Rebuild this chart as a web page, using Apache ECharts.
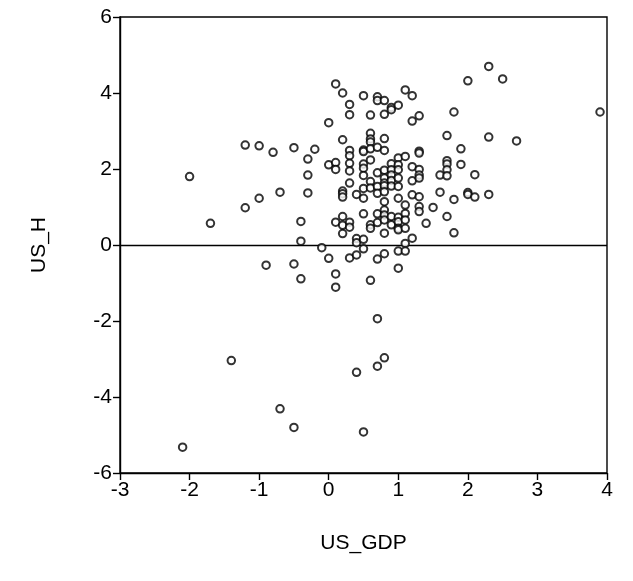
<!DOCTYPE html>
<html>
<head>
<meta charset="utf-8">
<script src="https://cdn.jsdelivr.net/npm/echarts@6/dist/echarts.min.js"></script>
<style>
html,body{margin:0;padding:0;background:#fff;}
#c{width:633px;height:581px;}
</style>
</head>
<body>
<div id="c"></div>
<script>
// US_GDP values (x), grouped as columns with their US_H values (y)
const gdpColumns = [-2.1,-2.0,-1.7,-1.4,-1.2,-1.0,-0.9,-0.8,-0.7,-0.5,-0.4,-0.3,-0.2,-0.1,0.0,0.1,0.2,0.3,0.4,0.5,0.6,0.7,0.8,0.9,1.0,1.1,1.2,1.3,1.4,1.5,1.6,1.7,1.8,1.9,2.0,2.1,2.3,2.5,2.7,3.9];
const usHValues = [
  [-5.32],
  [1.80],
  [0.57],
  [-3.04],
  [2.63, 0.98],
  [2.61, 1.23],
  [-0.53],
  [2.44],
  [1.39, -4.31],
  [2.56, -0.50, -4.80],
  [0.62, 0.10, -0.89],
  [2.26, 1.84, 1.37],
  [2.52],
  [-0.07],
  [3.22, 2.11, -0.35],
  [4.24, 2.17, 1.99, 0.60, -0.76, -1.11],
  [4.00, 2.77, 1.42, 1.35, 1.26, 0.75, 0.52, 0.30],
  [3.70, 3.43, 2.49, 2.35, 2.15, 1.95, 1.63, 0.60, 0.47, -0.34],
  [1.33, 0.17, 0.06, -0.26, -3.35],
  [3.93, 2.50, 2.46, 2.13, 2.02, 1.83, 1.49, 1.23, 0.82, 0.15, -0.10, -4.92],
  [3.42, 2.94, 2.79, 2.71, 2.53, 2.24, 1.67, 1.50, 0.53, 0.44, -0.93],
  [3.90, 3.80, 2.57, 1.90, 1.54, 1.36, 0.82, 0.59, -0.37, -1.94, -3.19],
  [3.80, 3.44, 2.80, 2.49, 1.97, 1.76, 1.63, 1.56, 1.40, 1.14, 0.92, 0.79, 0.66, 0.31, -0.23, -2.97],
  [3.62, 3.56, 2.14, 1.98, 1.84, 1.70, 1.55, 0.75, 0.53],
  [3.68, 2.29, 2.11, 1.98, 1.76, 1.54, 1.23, 0.73, 0.61, 0.44, 0.40, -0.16, -0.61],
  [4.08, 2.33, 1.05, 0.83, 0.66, 0.44, 0.04, -0.16],
  [3.93, 3.26, 2.06, 1.69, 1.32, 0.18],
  [3.40, 2.47, 2.42, 1.99, 1.84, 1.76, 1.27, 1.01, 0.88],
  [0.57],
  [0.99],
  [1.84, 1.39],
  [2.88, 2.22, 2.13, 1.98, 1.82, 0.75],
  [3.50, 1.20, 0.32],
  [2.53, 2.12],
  [4.32, 1.38, 1.33],
  [1.85, 1.26],
  [4.70, 2.84, 1.33],
  [4.37],
  [2.74],
  [3.50]
];
const xTicks = [-3,-2,-1,0,1,2,3,4];
const yTicks = [-6,-4,-2,0,2,4,6];

const points = [];
gdpColumns.forEach((x, i) => usHValues[i].forEach(y => points.push([x, y])));

const font = 'Liberation Sans, Arial, sans-serif';
const chart = echarts.init(document.getElementById('c'), null, {renderer: 'canvas'});
chart.setOption({
  animation: false,
  backgroundColor: '#fff',
  grid: {left: 120, right: 26, top: 17, bottom: 108, show: true, borderColor: '#000', borderWidth: 1.4, backgroundColor: 'transparent'},
  xAxis: {
    type: 'value', min: xTicks[0], max: xTicks[xTicks.length-1], interval: 1,
    name: 'US_GDP', nameLocation: 'middle', nameGap: 60,
    nameTextStyle: {fontFamily: font, fontSize: 21, color: '#000'},
    axisLine: {show: true, onZero: false, lineStyle: {color: '#000', width: 1.4}},
    axisTick: {show: true, length: 7, lineStyle: {color: '#000', width: 1.4}},
    axisLabel: {fontFamily: font, fontSize: 21, color: '#000', margin: 7},
    splitLine: {show: false}
  },
  yAxis: {
    type: 'value', min: yTicks[0], max: yTicks[yTicks.length-1], interval: 2,
    name: 'US_H', nameLocation: 'middle', nameGap: 70,
    nameTextStyle: {fontFamily: font, fontSize: 21, color: '#000'},
    axisLine: {show: true, onZero: false, lineStyle: {color: '#000', width: 1.4}},
    axisTick: {show: true, length: 7, lineStyle: {color: '#000', width: 1.4}},
    axisLabel: {fontFamily: font, fontSize: 21, color: '#000', margin: 8},
    splitLine: {show: false}
  },
  series: [{
    type: 'scatter',
    data: points,
    symbol: 'circle',
    symbolSize: 7.5,
    itemStyle: {color: '#fff', borderColor: '#000', borderWidth: 2},
    z: 3,
    markLine: {
      silent: true, symbol: 'none', label: {show: false},
      lineStyle: {color: '#000', width: 1.4, type: 'solid'},
      data: [{yAxis: 0}],
      z: 2
    }
  }]
});
</script>
</body>
</html>
